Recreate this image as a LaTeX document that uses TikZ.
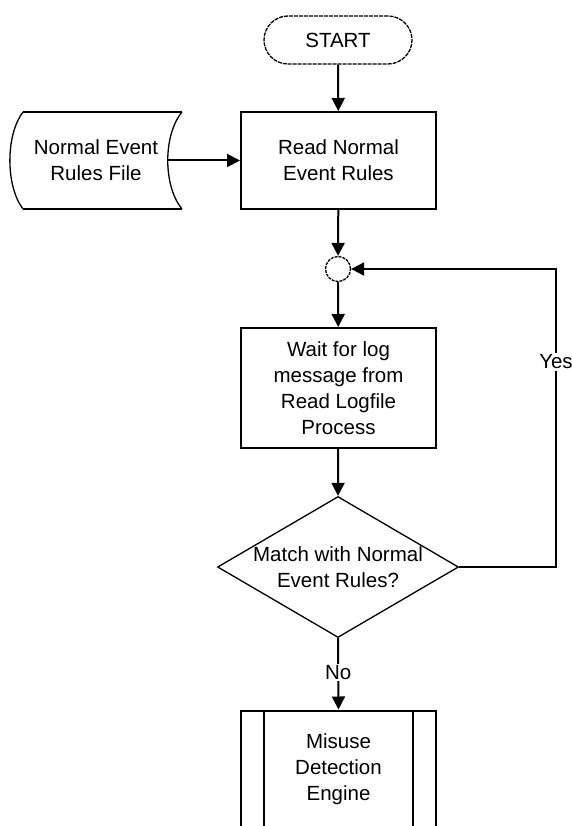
\documentclass[tikz,border=0pt]{standalone}
\usepackage{fontspec}
\setmainfont{Liberation Sans}
\usetikzlibrary{arrows.meta,shapes.geometric}

\tikzset{
  every node/.style={font=\fontsize{20.5}{26}\selectfont, text=black},
  procbox/.style={draw, line width=2pt, minimum width=195pt, align=center, inner sep=0pt},
  termbox/.style={draw, line width=1.3pt, dash pattern=on 4pt off 1pt, rounded corners=24pt,
                  minimum width=148pt, minimum height=48pt, inner sep=0pt},
  junction/.style={draw, circle, line width=1.3pt, dash pattern=on 3pt off 1pt,
                   minimum size=25pt, inner sep=0pt},
  decision/.style={draw, diamond, line width=1.3pt, minimum width=241pt,
                   minimum height=141pt, inner sep=0pt},
  flow/.style={line width=2pt, -{Triangle[length=13pt,width=13pt]}},
  edgelabel/.style={fill=white, inner sep=1.5pt}
}

\begin{document}
\begin{tikzpicture}[x=1pt, y=-1pt]
  \clip (0,0) rectangle (571,826);
  \fill[white] (0,0) rectangle (571,826);

  % start terminal
  \node[termbox] (start) at (338,40) {START};

  % input rules file (stored data shape)
  \draw[line width=2pt] (23,112) -- (182,112);
  \draw[line width=2pt] (23,209) -- (182,209);
  \draw[line width=1.3pt] (182,112) .. controls (163,135) and (163,186) .. (182,209);
  \draw[line width=1.3pt] (23,209) .. controls (5.5,186) and (5.5,135) .. (23,112);
  \node[minimum width=144pt, minimum height=97pt, inner sep=0pt, align=center]
    (file) at (96,160.5) {Normal Event\\Rules File};

  % processing steps
  \node[procbox, minimum height=97pt] (read) at (338.5,160.5) {Read Normal\\Event Rules};
  \node[junction] (junc) at (338,269) {};
  \node[procbox, minimum height=120pt] (wait) at (338.5,388)
    {Wait for log\\message from\\Read Logfile\\Process};

  % decision
  \node[decision] (dec) at (338,567) {};
  \node[align=center] (dectext) at (338,567) {Match with Normal\\Event Rules?};

  % predefined process
  \node[procbox, minimum height=118pt] (misuse) at (338.5,769.5)
    {Misuse\\Detection\\Engine};
  \draw[line width=2pt] ([xshift=24pt]misuse.north west) -- ([xshift=24pt]misuse.south west);
  \draw[line width=2pt] ([xshift=-24pt]misuse.north east) -- ([xshift=-24pt]misuse.south east);

  % connectors
  \coordinate (loop) at (556,567);
  \draw[flow] (start) -- (read);
  \draw[flow] (file.east) -- (read.west);
  \draw[flow] (read) -- (junc);
  \draw[flow] (junc) -- (wait);
  \draw[flow] (wait) -- (dec.north);
  \draw[flow] (dec.east) -- (loop) |- node[edgelabel, pos=0.344] {Yes} (junc.east);
  \draw[flow] (dec.south) -- node[edgelabel, pos=0.48] {No} (misuse.north);
\end{tikzpicture}
\end{document}
